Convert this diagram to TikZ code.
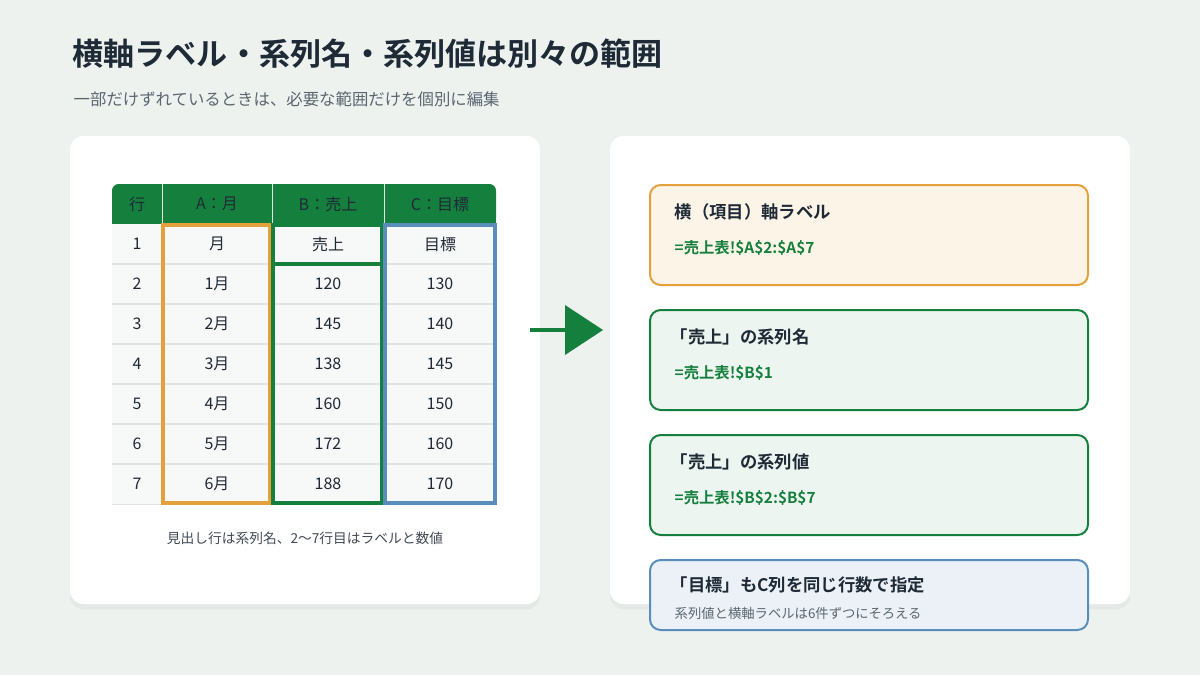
\documentclass[tikz,border=0pt]{standalone}
\usepackage{fontspec}
\setmainfont{Noto Sans CJK JP}[BoldFont={Noto Sans CJK JP Bold}]
\usetikzlibrary{positioning,shadows,calc}
\definecolor{bgc}{HTML}{EDF2EF}
\definecolor{ink}{HTML}{1F2A37}
\definecolor{gray}{HTML}{5B6670}
\definecolor{xlgreen}{HTML}{15803D}
\definecolor{ornge}{HTML}{E4A03A}
\definecolor{blu}{HTML}{5B8DBA}
\definecolor{cellbg}{HTML}{F7F8F8}
\definecolor{gridc}{HTML}{E1E4E3}
\tikzset{
	card/.style = {fill = white, rounded corners = 10pt, drop shadow = {opacity = 0.08, shadow xshift = 0pt, shadow yshift = -4pt}},
	cell/.style = {minimum width = #1, minimum height = 30pt, inner sep = 0pt, font = \fontsize{12}{13}\selectfont, text = ink},
	note/.style = {rounded corners = 8pt, line width = 1.5pt},
	ntitle/.style = {anchor = west, font = \bfseries\fontsize{13}{15}\selectfont, text = ink},
	nform/.style = {anchor = west, font = \bfseries\fontsize{11.5}{13}\selectfont, text = xlgreen},
}
\begin{document}
\begin{tikzpicture}[x = 0.75pt, y = -0.75pt]
\fill[bgc] (0, 0) rectangle (1200, 675);
\useasboundingbox (0, 0) rectangle (1200, 675);

\node[anchor = west, font = \bfseries\fontsize{23.3}{26}\selectfont, text = ink] (Title) at (68, 54) {横軸ラベル・系列名・系列値は別々の範囲};
\node[anchor = west, font = \fontsize{12.3}{14}\selectfont, text = gray] (Sub) at (69, 99) {一部だけずれているときは、必要な範囲だけを個別に編集};

\path[card] (70, 136) rectangle (540, 604);
\path[card] (610, 136) rectangle (1130, 604);

% table
\fill[xlgreen, rounded corners = 5pt] (112, 184) rectangle (496, 224);
\fill[xlgreen] (112, 204) rectangle (496, 224);
\fill[cellbg] (112, 224) rectangle (496, 504);
\foreach \y in {264, 304, ..., 464}
	\draw[gridc, line width = 1pt] (112, \y) -- (496, \y);
\draw[gridc] (112, 504) -- (496, 504);
\foreach \x in {162, 272, 384}
	\draw[gridc, line width = 0.6pt] (\x, 184) -- (\x, 224);

\foreach \x/\w/\l [count = \i] in {137/50/行, 217/110/A：月, 328/112/B：売上, 440/112/C：目標}
	\node[cell = \w*0.75pt, text = ink] (H\i) at (\x, 204) {\l};

\foreach \r/\a/\b/\c [count = \i] in {1/月/売上/目標, 2/1月/120/130, 3/2月/145/140, 4/3月/138/145, 5/4月/160/150, 6/5月/172/160, 7/6月/188/170} {
	\node[cell = 37pt] (R\i) at (137, 204 + 40*\i) {\r};
	\node[cell = 80pt] (A\i) at (217, 204 + 40*\i) {\a};
	\node[cell = 80pt] (B\i) at (328, 204 + 40*\i) {\b};
	\node[cell = 80pt] (C\i) at (440, 204 + 40*\i) {\c};
}

\draw[ornge, line width = 3pt] (163, 225) rectangle (270, 503);
\draw[xlgreen, line width = 3pt] (273, 225) rectangle (382, 264);
\draw[xlgreen, line width = 3pt] (273, 264) rectangle (382, 503);
\draw[blu, line width = 3pt] (385, 225) rectangle (495, 503);

\node[font = \fontsize{10.3}{12}\selectfont, text = ink!85] (Cap) at (305, 538) {見出し行は系列名、2〜7行目はラベルと数値};

% arrow
\coordinate (Ar) at (530, 330);
\coordinate (Tip) at (603, 330);
\draw[xlgreen, line width = 2.5pt] (Ar) -- (566, 330);
\fill[xlgreen] (565, 305) -- (Tip) -- (565, 355) -- cycle;

% notes
\draw[note, draw = ornge, fill = ornge!12] (650, 185) rectangle (1088, 285);
\node[ntitle] (N1) at (670, 212) {横（項目）軸ラベル};
\node[nform] (F1) at (670, 248) {=売上表!\$A\$2:\$A\$7};

\draw[note, draw = xlgreen, fill = xlgreen!8] (650, 310) rectangle (1088, 410);
\node[ntitle] (N2) at (666, 337) {「売上」の系列名};
\node[nform] (F2) at (670, 373) {=売上表!\$B\$1};

\draw[note, draw = xlgreen, fill = xlgreen!8] (650, 435) rectangle (1088, 535);
\node[ntitle] (N3) at (666, 462) {「売上」の系列値};
\node[nform] (F3) at (670, 498) {=売上表!\$B\$2:\$B\$7};

\draw[note, draw = blu, fill = blu!12] (650, 560) rectangle (1088, 630);
\node[ntitle] (N4) at (666, 585) {「目標」もC列を同じ行数で指定};
\node[anchor = west, font = \fontsize{10}{12}\selectfont, text = gray] (S4) at (670, 613) {系列値と横軸ラベルは6件ずつにそろえる};
\end{tikzpicture}
\end{document}
